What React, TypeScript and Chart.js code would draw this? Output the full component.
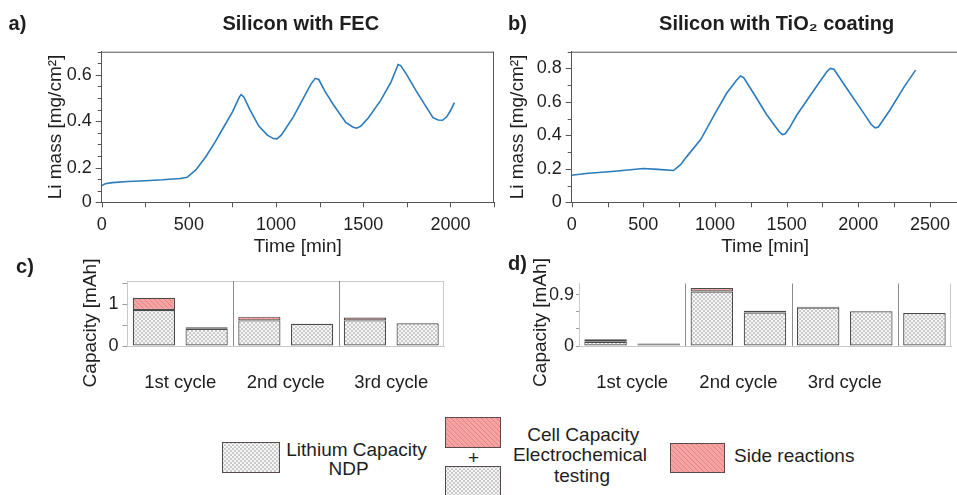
import React, { useEffect, useMemo, useRef } from 'react';
import { Chart, registerables } from 'chart.js';

Chart.register(...registerables);

const FONT = "'Liberation Sans', Arial, Helvetica, sans-serif";
const TEXT = '#1e1e1e';
const AXIS = '#555555';
const LINE = '#2b7bba';

// ---------- panel a: Silicon with FEC ----------
const TIME_A = [0, 20, 60, 150, 250, 350, 450, 490, 540, 600, 650, 700, 750, 790, 800, 815, 850, 900, 950, 985, 1005, 1030, 1100, 1150, 1200, 1225, 1245, 1280, 1330, 1400, 1440, 1462, 1485, 1530, 1600, 1660, 1700, 1715, 1750, 1800, 1850, 1900, 1930, 1955, 1980, 2000, 2023];
const MASS_A = [0.122, 0.13, 0.135, 0.14, 0.143, 0.147, 0.153, 0.158, 0.19, 0.25, 0.31, 0.375, 0.44, 0.505, 0.515, 0.505, 0.45, 0.38, 0.34, 0.325, 0.324, 0.34, 0.42, 0.49, 0.56, 0.585, 0.58, 0.53, 0.47, 0.395, 0.375, 0.37, 0.378, 0.415, 0.49, 0.57, 0.645, 0.64, 0.6, 0.535, 0.475, 0.415, 0.405, 0.404, 0.42, 0.445, 0.48];
const X_TICKS_A = [0, 250, 500, 750, 1000, 1250, 1500, 1750, 2000, 2250];
const X_LABELS_A = ['0', '500', '1000', '1500', '2000'];
const Y_TICKS_A = [0.05, 0.1, 0.15, 0.2, 0.25, 0.3, 0.35, 0.4, 0.45, 0.5, 0.55, 0.6, 0.65, 0.7];
const Y_LABEL_AT_A = [0.05, 0.2, 0.4, 0.6];
const Y_LABELS_A = ['0', '0.2', '0.4', '0.6'];

// ---------- panel b: Silicon with TiO2 coating ----------
const TIME_B = [0, 100, 300, 500, 600, 710, 760, 800, 900, 1000, 1080, 1150, 1178, 1200, 1270, 1360, 1420, 1450, 1470, 1490, 1520, 1570, 1690, 1780, 1805, 1830, 1920, 2040, 2090, 2118, 2140, 2220, 2320, 2400];
const MASS_B = [0.162, 0.172, 0.186, 0.202, 0.197, 0.19, 0.225, 0.27, 0.375, 0.53, 0.65, 0.73, 0.755, 0.745, 0.65, 0.525, 0.455, 0.42, 0.405, 0.41, 0.445, 0.52, 0.67, 0.78, 0.8, 0.795, 0.68, 0.53, 0.465, 0.445, 0.45, 0.55, 0.69, 0.79];
const X_TICKS_B = [0, 250, 500, 750, 1000, 1250, 1500, 1750, 2000, 2250, 2500];
const X_LABELS_B = ['0', '500', '1000', '1500', '2000', '2500'];
const Y_TICKS_B = [0, 0.1, 0.2, 0.3, 0.4, 0.5, 0.6, 0.7, 0.8, 0.9];
const Y_LABEL_AT_B = [0, 0.2, 0.4, 0.6, 0.8];
const Y_LABELS_B = ['0', '0.2', '0.4', '0.6', '0.8'];

// ---------- panel c: capacities (FEC) ----------
const BARS_C = ['1a', '1b', '2a', '2b', '3a', '3b'];
const NDP_C = [0.86, 0.41, 0.61, 0.53, 0.61, 0.54];
const SIDE_C = [0.29, 0.04, 0.09, 0.0, 0.07, 0.0];
const Y_TICKS_C = [0, 0.5, 1, 1.5];
const Y_LABELS_C = ['0', '', '1', ''];

// ---------- panel d: capacities (TiO2) ----------
const BARS_D = ['1a', '1b', '2a', '2b', '3a', '3b', '4a'];
const NDP_D = [0.075, 0.02, 0.96, 0.59, 0.675, 0.61, 0.58];
const SIDE_D = [0.045, 0.025, 0.06, 0.03, 0.015, 0.0, 0.0];
const Y_TICKS_D = [0, 0.3, 0.6, 0.9];
const Y_LABELS_D = ['0', '', '', '0.9'];

const CYCLES = ['1st cycle', '2nd cycle', '3rd cycle'];

function makeTile(kind: 'gray' | 'red'): HTMLCanvasElement {
  const c = document.createElement('canvas');
  const s = kind === 'gray' ? 4 : 5;
  c.width = s;
  c.height = s;
  const g = c.getContext('2d')!;
  if (kind === 'gray') {
    g.fillStyle = '#f6f6f6';
    g.fillRect(0, 0, s, s);
    g.strokeStyle = '#acacac';
    g.lineWidth = 0.6;
    g.beginPath();
    for (const k of [-s, 0, s]) {
      g.moveTo(k, 0); g.lineTo(k + s, s);
      g.moveTo(k + s, 0); g.lineTo(k, s);
    }
    g.stroke();
  } else {
    g.fillStyle = '#f5a3a3';
    g.fillRect(0, 0, s, s);
    g.strokeStyle = '#e07b7b';
    g.lineWidth = 0.8;
    g.beginPath();
    for (const k of [-s, 0, s]) {
      g.moveTo(k, 0); g.lineTo(k + s, s);
    }
    g.stroke();
  }
  return c;
}

function makePattern(kind: 'gray' | 'red') {
  const ctx = document.createElement('canvas').getContext('2d')!;
  return ctx.createPattern(makeTile(kind), 'repeat')!;
}

const near = (a: number, b: number) => Math.abs(a - b) < 1e-6;

function lineConfig(p: any) {
  const decor = {
    id: 'lineDecor',
    afterDraw(chart: any) {
      const { ctx, chartArea: a, scales } = chart;
      const x = scales.x, y = scales.y;
      ctx.save();
      ctx.strokeStyle = AXIS;
      ctx.lineWidth = 1;
      ctx.beginPath();
      ctx.moveTo(a.left, a.top + 0.5);
      ctx.lineTo(a.right, a.top + 0.5);
      ctx.moveTo(a.right - 0.5, a.top);
      ctx.lineTo(a.right - 0.5, a.bottom);
      x.ticks.forEach((t: any) => {
        const px = Math.round(x.getPixelForValue(t.value)) + 0.5;
        ctx.moveTo(px, a.bottom);
        ctx.lineTo(px, a.bottom + 5);
      });
      y.ticks.forEach((t: any) => {
        const py = Math.round(y.getPixelForValue(t.value)) + 0.5;
        const major = p.yLabelAt.some((v: number) => near(v, t.value));
        const len = major ? 6 : 4;
        ctx.moveTo(a.left - len, py);
        ctx.lineTo(a.left, py);
      });
      ctx.stroke();
      ctx.restore();
    },
  };
  return {
    type: 'line',
    data: {
      datasets: [
        {
          data: p.xs.map((x: number, i: number) => ({ x, y: p.ys[i] })),
          borderColor: LINE,
          borderWidth: 1.6,
          pointRadius: 0,
          tension: 0,
          fill: false,
        },
      ],
    },
    options: {
      responsive: false,
      animation: false,
      layout: { padding: p.pad },
      plugins: { legend: { display: false }, tooltip: { enabled: false } },
      scales: {
        x: {
          type: 'linear',
          min: 0,
          max: p.xMax,
          afterBuildTicks: (s: any) => { s.ticks = p.xTicks.map((v: number) => ({ value: v })); },
          ticks: {
            autoSkip: false,
            maxRotation: 0,
            padding: 6,
            color: TEXT,
            font: { family: FONT, size: 18 },
            callback: (v: number) => {
              const i = p.xLabels.indexOf(String(v));
              return i >= 0 ? p.xLabels[i] : '';
            },
          },
          grid: { drawOnChartArea: false, color: 'rgba(0,0,0,0)', tickLength: 6 },
          border: { color: AXIS, width: 1 },
          title: { display: true, text: 'Time [min]', color: TEXT, font: { family: FONT, size: 19 }, padding: { top: 4, bottom: 4 } },
          afterFit: (s: any) => { s.height = p.hx; },
        },
        y: {
          min: p.yMin,
          max: p.yMax,
          afterBuildTicks: (s: any) => { s.ticks = p.yTicks.map((v: number) => ({ value: v })); },
          ticks: {
            autoSkip: false,
            padding: 4,
            color: TEXT,
            font: { family: FONT, size: 18 },
            callback: (v: number) => {
              const i = p.yLabelAt.findIndex((a: number) => near(a, v));
              return i >= 0 ? p.yLabels[i] : '';
            },
          },
          grid: { drawOnChartArea: false, color: 'rgba(0,0,0,0)', tickLength: 6 },
          border: { color: AXIS, width: 1 },
          title: { display: true, text: 'Li mass [mg/cm²]', color: TEXT, font: { family: FONT, size: 19 }, padding: { top: 4, bottom: 4 } },
          afterFit: (s: any) => { s.width = p.wy; },
        },
      },
    },
    plugins: [decor],
  };
}

function barConfig(p: any) {
  const gray = makePattern('gray');
  const red = makePattern('red');
  const decor = {
    id: 'barDecor',
    afterDraw(chart: any) {
      const { ctx, chartArea: a, scales } = chart;
      const x = scales.x;
      const n = p.labels.length;
      ctx.save();
      ctx.lineWidth = 1;
      ctx.strokeStyle = '#c9c9c9';
      ctx.beginPath();
      if (p.topLine) {
        ctx.moveTo(a.left, a.top + 0.5);
        ctx.lineTo(a.right, a.top + 0.5);
      }
      ctx.moveTo(a.right - 0.5, a.top);
      ctx.lineTo(a.right - 0.5, a.bottom);
      ctx.stroke();
      ctx.strokeStyle = '#8c8c8c';
      ctx.beginPath();
      for (let b = 1.5; b < n - 1; b += 2) {
        const px = Math.round(x.getPixelForValue(b)) + 0.5;
        ctx.moveTo(px, a.top);
        ctx.lineTo(px, a.bottom);
      }
      ctx.stroke();
      ctx.fillStyle = TEXT;
      ctx.textAlign = 'center';
      ctx.textBaseline = 'middle';
      ctx.font = `18.5px ${FONT}`;
      CYCLES.forEach((c, i) => {
        ctx.fillText(c, x.getPixelForValue(2 * i + 0.5), a.bottom + 36.5);
      });
      ctx.translate(p.titleX, p.titleY);
      ctx.rotate(-Math.PI / 2);
      ctx.font = `19px ${FONT}`;
      ctx.fillText('Capacity [mAh]', 0, 0);
      ctx.restore();
    },
  };
  const common = { borderColor: '#4a4a4a', borderWidth: 1.2, borderSkipped: false, barPercentage: 0.8, categoryPercentage: 1.0, stack: 's' };
  return {
    type: 'bar',
    data: {
      labels: p.labels,
      datasets: [
        { label: 'Lithium Capacity NDP', data: p.ndp, backgroundColor: gray, ...common },
        { label: 'Side reactions', data: p.side, backgroundColor: red, ...common },
      ],
    },
    options: {
      responsive: false,
      animation: false,
      layout: { padding: p.pad },
      plugins: { legend: { display: false }, tooltip: { enabled: false } },
      scales: {
        x: {
          stacked: true,
          grid: { display: false },
          ticks: { display: false },
          border: { color: '#c9c9c9', width: 1 },
          afterFit: (s: any) => { s.height = p.hx; },
        },
        y: {
          stacked: true,
          min: 0,
          max: p.yMax,
          afterBuildTicks: (s: any) => { s.ticks = p.yTicks.map((v: number) => ({ value: v })); },
          ticks: {
            autoSkip: false,
            padding: p.tickPad,
            color: TEXT,
            font: { family: FONT, size: 18 },
            callback: (v: number) => {
              const i = p.yTicks.findIndex((a: number) => near(a, v));
              return i >= 0 ? p.yLabels[i] : '';
            },
          },
          grid: { drawOnChartArea: false, color: '#9a9a9a', tickLength: p.tickLen },
          border: { color: '#c9c9c9', width: 1 },
          afterFit: (s: any) => { s.width = p.wy; },
        },
      },
    },
    plugins: [decor],
  };
}

function ChartBox({ left, top, width, height, make }: any) {
  const ref = useRef<HTMLCanvasElement>(null);
  useEffect(() => {
    const chart = new Chart(ref.current as HTMLCanvasElement, make());
    return () => chart.destroy();
  }, []);
  return (
    <canvas
      ref={ref}
      width={width}
      height={height}
      style={{ position: 'absolute', left, top, width, height }}
    />
  );
}

function T({ x, y, children, style }: any) {
  return (
    <div
      style={{
        position: 'absolute',
        left: x,
        top: y,
        transform: 'translate(-50%, -50%)',
        whiteSpace: 'nowrap',
        lineHeight: 1,
        ...style,
      }}
    >
      {children}
    </div>
  );
}

export default function App() {
  const grayUrl = useMemo(() => makeTile('gray').toDataURL(), []);
  const redUrl = useMemo(() => makeTile('red').toDataURL(), []);
  const bold = { fontWeight: 'bold', fontSize: 20 };
  const leg = { fontSize: 19 };
  const sw = (url: string, l: number, t: number, w: number, h: number) => (
    <div
      style={{
        position: 'absolute',
        left: l,
        top: t,
        width: w,
        height: h,
        boxSizing: 'border-box',
        border: '1px solid #5a4a4a',
        backgroundImage: `url(${url})`,
      }}
    />
  );

  return (
    <div
      style={{
        position: 'fixed',
        left: 0,
        top: 0,
        width: 957,
        height: 495,
        overflow: 'hidden',
        background: '#fff',
        fontFamily: FONT,
        color: TEXT,
      }}
    >
      <ChartBox
        left={0}
        top={0}
        width={500}
        height={268}
        make={() =>
          lineConfig({
            xs: TIME_A, ys: MASS_A, xMax: 2250, yMin: 0.05, yMax: 0.7,
            xTicks: X_TICKS_A, xLabels: X_LABELS_A, yTicks: Y_TICKS_A, yLabelAt: Y_LABEL_AT_A, yLabels: Y_LABELS_A,
            pad: { left: 40, top: 51.7, right: 6, bottom: 5.7 }, wy: 61.7, hx: 60,
          })
        }
      />
      <ChartBox
        left={471}
        top={0}
        width={500}
        height={268}
        make={() =>
          lineConfig({
            xs: TIME_B, ys: MASS_B, xMax: 2700, yMin: 0, yMax: 0.9,
            xTicks: X_TICKS_B, xLabels: X_LABELS_B, yTicks: Y_TICKS_B, yLabelAt: Y_LABEL_AT_B, yLabels: Y_LABELS_B,
            pad: { left: 31.6, top: 51.7, right: 12.4, bottom: 5.7 }, wy: 69.1, hx: 60,
          })
        }
      />
      <ChartBox
        left={0}
        top={255}
        width={460}
        height={145}
        make={() =>
          barConfig({
            labels: BARS_C, ndp: NDP_C, side: SIDE_C, yMax: 1.55, yTicks: Y_TICKS_C, yLabels: Y_LABELS_C,
            pad: { left: 70, top: 26, right: 16, bottom: 4 }, wy: 57.5, hx: 50, tickLen: 5, tickPad: 4,
            titleX: 91, titleY: 68, topLine: true,
          })
        }
      />
      <ChartBox
        left={480}
        top={255}
        width={477}
        height={145}
        make={() =>
          barConfig({
            labels: BARS_D, ndp: NDP_D, side: SIDE_D, yMax: 1.1, yTicks: Y_TICKS_D, yLabels: Y_LABELS_D,
            pad: { left: 70, top: 28.5, right: 6, bottom: 4 }, wy: 29, hx: 50, tickLen: 3, tickPad: 2,
            titleX: 61, titleY: 67.5, topLine: false,
          })
        }
      />

      <T x={17.5} y={23} style={bold}>a)</T>
      <T x={300.8} y={23} style={bold}>Silicon with FEC</T>
      <T x={517.5} y={23} style={bold}>b)</T>
      <T x={776.7} y={23} style={bold}>Silicon with TiO₂ coating</T>
      <T x={25} y={266} style={bold}>c)</T>
      <T x={517.5} y={263} style={bold}>d)</T>

      {sw(grayUrl, 222, 442, 58, 31)}
      <T x={356.5} y={449} style={leg}>Lithium Capacity</T>
      <T x={348.5} y={468} style={leg}>NDP</T>

      {sw(redUrl, 445, 417, 56, 31)}
      <T x={473.5} y={457} style={leg}>+</T>
      {sw(grayUrl, 445, 466, 56, 31)}
      <T x={583.3} y={434} style={leg}>Cell Capacity</T>
      <T x={580} y={454} style={leg}>Electrochemical</T>
      <T x={582} y={475} style={leg}>testing</T>

      {sw(redUrl, 670, 443, 55, 30)}
      <div
        style={{
          position: 'absolute',
          left: 734,
          top: 455,
          transform: 'translateY(-50%)',
          whiteSpace: 'nowrap',
          lineHeight: 1,
          ...leg,
        }}
      >
        Side reactions
      </div>
    </div>
  );
}
